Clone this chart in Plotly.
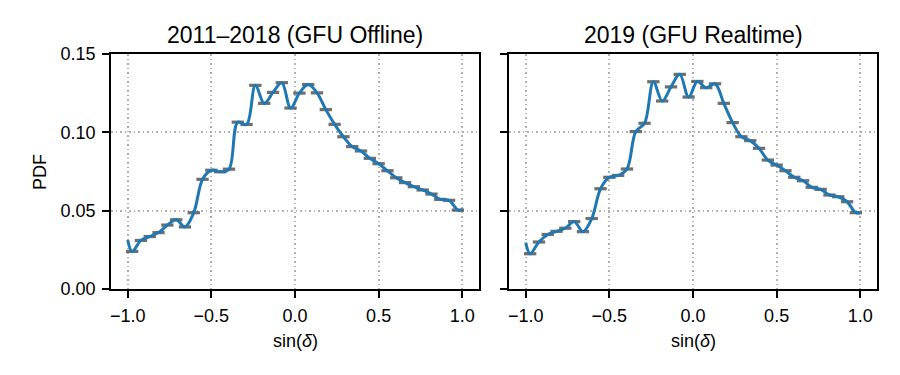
import numpy as np
import plotly.graph_objects as go

# ---------------- data ----------------
N_BINS = 38
bin_edges = np.linspace(-1.0, 1.0, N_BINS + 1)
bin_centers = 0.5 * (bin_edges[:-1] + bin_edges[1:])

# histogram PDF values per bin
offline_pdf = [0.0240, 0.0310, 0.0335, 0.0360, 0.0408, 0.0442, 0.0396, 0.0487,
               0.0700, 0.0758, 0.0748, 0.0765, 0.1065, 0.1050, 0.1300, 0.1185,
               0.1255, 0.1317, 0.1155, 0.1250, 0.1305, 0.1252, 0.1145, 0.1051,
               0.0972, 0.0909, 0.0881, 0.0834, 0.0800, 0.0755, 0.0710, 0.0679,
               0.0653, 0.0632, 0.0606, 0.0572, 0.0566, 0.0504]
realtime_pdf = [0.0225, 0.0300, 0.0348, 0.0368, 0.0388, 0.0430, 0.0366, 0.0450,
                0.0640, 0.0713, 0.0725, 0.0766, 0.1005, 0.1058, 0.1323, 0.1200,
                0.1290, 0.1370, 0.1225, 0.1325, 0.1285, 0.1310, 0.1185, 0.1062,
                0.0972, 0.0947, 0.0898, 0.0823, 0.0791, 0.0755, 0.0713, 0.0691,
                0.0649, 0.0636, 0.0600, 0.0589, 0.0557, 0.0487]
# smooth-curve values at sin(dec) = -1 and +1
offline_curve_ends = [0.0313, 0.0504]
realtime_curve_ends = [0.0296, 0.0487]

titles = ["2011\u20132018 (GFU Offline)", "2019 (GFU Realtime)"]
x_tickvals = [-1.0, -0.5, 0.0, 0.5, 1.0]
x_ticktext = ["\u22121.0", "\u22120.5", "0.0", "0.5", "1.0"]
y_tickvals = [0.0, 0.05, 0.10, 0.15]
y_ticktext = ["0.00", "0.05", "0.10", "0.15"]

# ---------------- figure ----------------
W, H = 900, 375
OFF = 8  # page body margin of the browser
FONT = "Liberation Sans"
BLUE = "#1f77b4"
GRAY = "rgba(95,95,95,0.9)"
bin_px = 2.0 / N_BINS * 167.5


def px(xp):
    return (xp - OFF) / W


def py(yp):
    return (H - (yp - OFF)) / H


fig = go.Figure()
panels = [(offline_pdf, offline_curve_ends, "x", "y"),
          (realtime_pdf, realtime_curve_ends, "x2", "y2")]
for vals, ends, xa, ya in panels:
    fig.add_trace(go.Scatter(
        x=bin_centers, y=vals, xaxis=xa, yaxis=ya, mode="markers",
        marker=dict(symbol="line-ew", size=bin_px,
                    line=dict(color=GRAY, width=3.2)),
        showlegend=False, hoverinfo="skip"))
    cx = [-1.0] + list(bin_centers) + [1.0]
    cy = [ends[0]] + list(vals) + [ends[1]]
    fig.add_trace(go.Scatter(
        x=cx, y=cy, xaxis=xa, yaxis=ya, mode="lines",
        line=dict(color=BLUE, width=3, shape="spline", smoothing=1.0),
        showlegend=False))

x_dom = [[px(111), px(479)], [px(509), px(877)]]
y_dom = [py(289), py(54)]

axis_common = dict(
    showline=True, linecolor="black", linewidth=1.7, mirror=True,
    ticks="outside", ticklen=7, tickwidth=1.7, tickcolor="black",
    showgrid=True, gridcolor="#b0b0b0", griddash="1.7px,2.8px", gridwidth=1.6,
    zeroline=False, automargin=False,
    tickfont=dict(family=FONT, size=18, color="black"),
)
xa_common = dict(axis_common, range=[-1.1, 1.1], tickvals=x_tickvals,
                 ticktext=x_ticktext, ticklabelstandoff=3)
ya_common = dict(axis_common, range=[0, 0.15], tickvals=y_tickvals,
                 ticktext=y_ticktext, ticklabelstandoff=3)

fig.update_layout(
    width=W, height=H, margin=dict(l=0, r=0, t=0, b=0, autoexpand=False),
    paper_bgcolor="white", plot_bgcolor="white",
    xaxis=dict(xa_common, domain=x_dom[0], anchor="y"),
    yaxis=dict(ya_common, domain=y_dom, anchor="x"),
    xaxis2=dict(xa_common, domain=x_dom[1], anchor="y2"),
    yaxis2=dict(ya_common, domain=y_dom, anchor="x2", showticklabels=False),
)

ann = []
for i, t in enumerate(titles):
    xc = (x_dom[i][0] + x_dom[i][1]) / 2
    ann.append(dict(text=t, x=xc, y=py(35), xref="paper", yref="paper",
                    xanchor="center", yanchor="middle", showarrow=False,
                    font=dict(family=FONT, size=23, color="black")))
    ann.append(dict(text="sin(<i>\u03b4</i>)", x=xc, y=py(341),
                    xref="paper", yref="paper", xanchor="center",
                    yanchor="middle", showarrow=False,
                    font=dict(family=FONT, size=18, color="black")))
ann.append(dict(text="PDF", x=px(40), y=py(172), xref="paper",
                yref="paper", xanchor="center", yanchor="middle",
                textangle=-90, showarrow=False,
                font=dict(family=FONT, size=18, color="black")))
fig.update_layout(annotations=ann)

fig.write_html("out.html")
